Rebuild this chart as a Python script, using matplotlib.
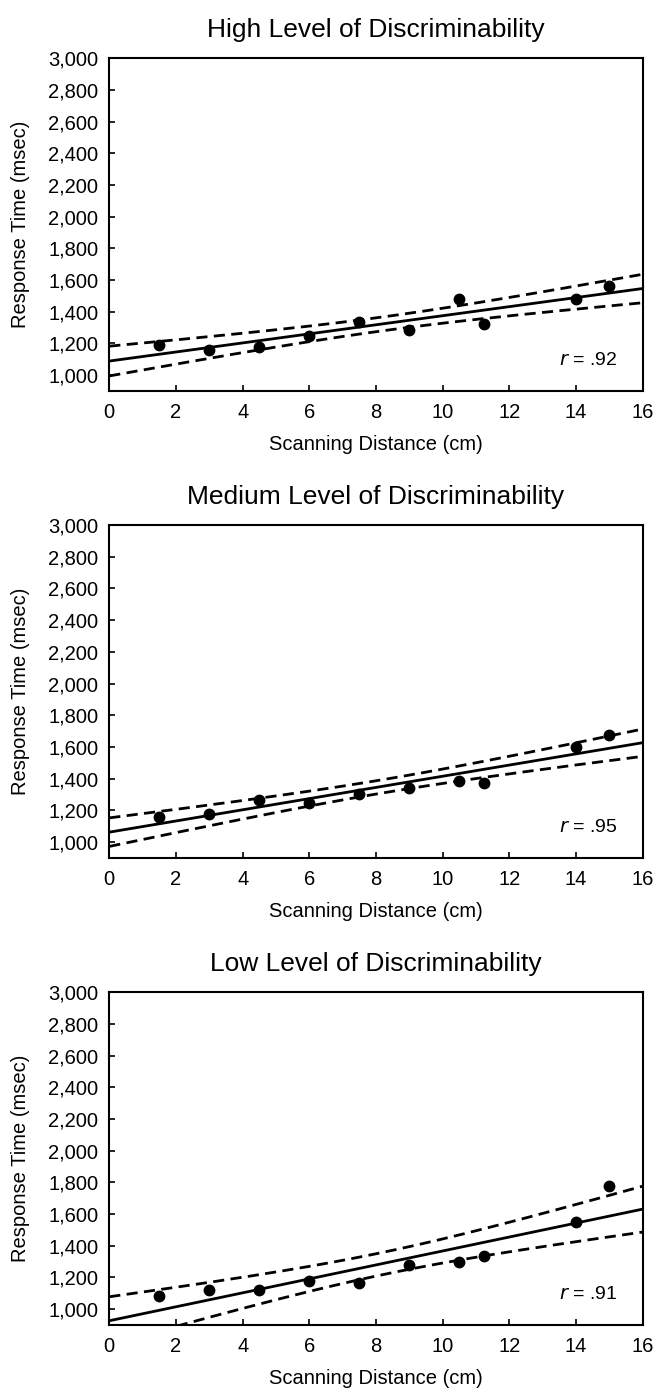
import numpy as np
import matplotlib
matplotlib.use("Agg")
import matplotlib.pyplot as plt
from matplotlib.ticker import FuncFormatter

plt.rcParams['font.family'] = ['Liberation Sans', 'DejaVu Sans']

# ---- data ----
distance = [1.5, 3, 4.5, 6, 7.5, 9, 10.5, 11.25, 14, 15]
rt_high = [1190, 1158, 1179, 1246, 1337, 1283, 1483, 1325, 1481, 1562]
rt_medium = [1159, 1180, 1264, 1247, 1306, 1339, 1385, 1371, 1601, 1678]
rt_low = [1084, 1118, 1118, 1175, 1164, 1276, 1299, 1333, 1549, 1775]
titles = ["High Level of Discriminability",
          "Medium Level of Discriminability",
          "Low Level of Discriminability"]
r_labels = [".92", ".95", ".91"]
y_ticks = [1000, 1200, 1400, 1600, 1800, 2000, 2200, 2400, 2600, 2800, 3000]
x_ticks = [0, 2, 4, 6, 8, 10, 12, 14, 16]
T_CRIT = 2.306  # t(0.975, df=8)

W, H = 655, 1391
fig = plt.figure(figsize=(W / 100, H / 100), dpi=100)

left_px, right_px = 109.3, 642.7
tops = [58.3, 525.0, 992.3]
bottoms = [391.0, 858.0, 1325.0]

series = [rt_high, rt_medium, rt_low]
xx = np.linspace(0, 16, 200)

for i, ys in enumerate(series):
    ax = fig.add_axes([left_px / W, 1 - bottoms[i] / H,
                       (right_px - left_px) / W, (bottoms[i] - tops[i]) / H])
    x = np.array(distance, float)
    y = np.array(ys, float)
    n = len(x)
    b1, b0 = np.polyfit(x, y, 1)
    resid = y - (b0 + b1 * x)
    s = np.sqrt(np.sum(resid ** 2) / (n - 2))
    sxx = np.sum((x - x.mean()) ** 2)
    fit = b0 + b1 * xx
    half = T_CRIT * s * np.sqrt(1 / n + (xx - x.mean()) ** 2 / sxx)

    ax.plot(xx, fit, color='black', lw=2.0, solid_capstyle='butt')
    ax.plot(xx, fit + half, color='black', lw=2.0, dashes=(4, 2.3))
    ax.plot(xx, fit - half, color='black', lw=2.0, dashes=(4, 2.3))
    ax.plot(x, y, 'o', color='black', markersize=7.5, zorder=5)

    ax.set_xlim(0, 16)
    ax.set_ylim(900, 3000)
    ax.set_xticks(x_ticks)
    ax.set_yticks(y_ticks)
    ax.yaxis.set_major_formatter(FuncFormatter(lambda v, p: f"{int(v):,}"))
    ax.tick_params(direction='in', length=4, width=1.2, labelsize=14.5)
    ax.tick_params(axis='x', pad=9)
    ax.tick_params(axis='y', pad=8)
    for sp in ax.spines.values():
        sp.set_linewidth(1.5)
    ax.set_title(titles[i], fontsize=19, pad=15)
    ax.set_xlabel("Scanning Distance (cm)", fontsize=14.5, labelpad=9)
    ax.set_ylabel("Response Time (msec)", fontsize=14.5, labelpad=13)
    ax.text(0.952, 0.093, "$\\it{r}$ = " + r_labels[i], transform=ax.transAxes,
            ha='right', va='center', fontsize=14)

fig.savefig("out.png", dpi=100)
